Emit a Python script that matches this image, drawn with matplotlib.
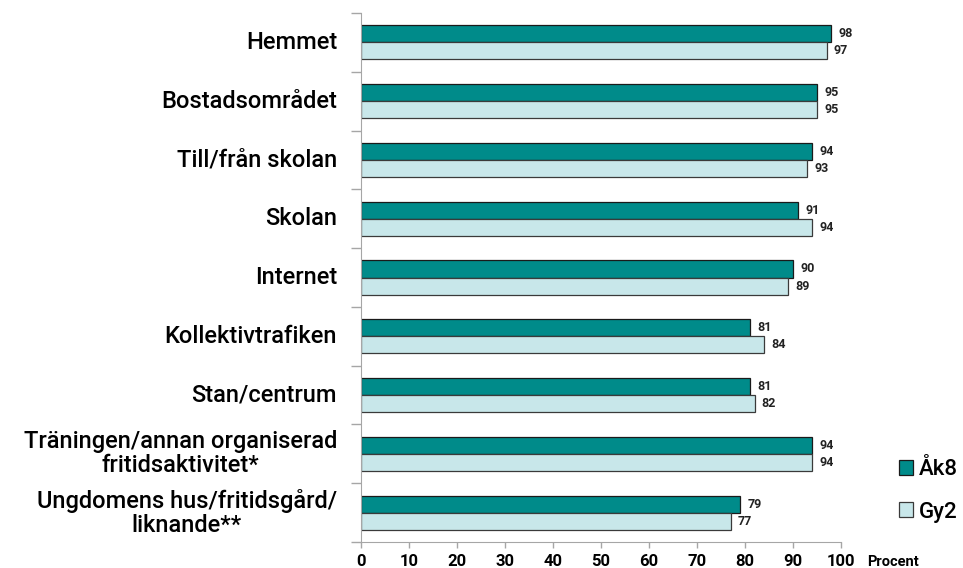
import numpy as np
import matplotlib
matplotlib.use("Agg")
import matplotlib.pyplot as plt

categories = ["Hemmet", "Bostadsområdet", "Till/från skolan", "Skolan", "Internet",
              "Kollektivtrafiken", "Stan/centrum",
              "Träningen/annan organiserad\nfritidsaktivitet*",
              "Ungdomens hus/fritidsgård/\nliknande**"]
ak8 = [98, 95, 94, 91, 90, 81, 81, 94, 79]
gy2 = [97, 95, 93, 94, 89, 84, 82, 94, 77]
series_names = ["Åk8", "Gy2"]

plt.rcParams['font.family'] = ['Roboto', 'DejaVu Sans']

fig = plt.figure(figsize=(9.63, 5.68), dpi=100)
ax = fig.add_axes([361/963, 1 - 542/568, 480/963, 529/568])

y = np.arange(len(categories))
h = 0.29
c1 = "#008B8A"
c2 = "#C8E7EA"
b1 = ax.barh(y - h/2, ak8, height=h, color=c1, edgecolor="#1a1a1a", linewidth=0.9, label=series_names[0])
b2 = ax.barh(y + h/2, gy2, height=h, color=c2, edgecolor="#3a3a3a", linewidth=0.9, label=series_names[1])

for i in range(len(categories)):
    ax.text(ak8[i] + 1.5, y[i] - h/2, str(ak8[i]), va="center", ha="left", fontsize=9, fontweight="bold", color="#222222")
    ax.text(gy2[i] + 1.5, y[i] + h/2, str(gy2[i]), va="center", ha="left", fontsize=9, fontweight="bold", color="#222222")

ax.set_ylim(len(categories) - 0.5, -0.5)
ax.set_xlim(0, 100)
ax.set_xticks(range(0, 101, 10))
ax.set_xticklabels([str(v) for v in range(0, 101, 10)], fontsize=12, fontweight="bold")

# category labels centered between boundary ticks
ax.set_yticks(np.arange(-0.5, len(categories), 1))
ax.set_yticklabels([])
ax.tick_params(axis="y", length=7, color="#a6a6a6", width=1)
ax.tick_params(axis="x", length=4, color="#a6a6a6", width=1, pad=5)
for i, lab in enumerate(categories):
    ax.text(-0.05, y[i], lab, transform=ax.get_yaxis_transform(), ha="right", va="center",
            fontsize=17, fontweight="medium", multialignment="center", linespacing=1.05)

for s in ["top", "right"]:
    ax.spines[s].set_visible(False)
ax.spines["left"].set_color("#a6a6a6")
ax.spines["bottom"].set_color("#a6a6a6")

fig.text(867/963, 1 - 562/568, "Procent", fontsize=10.5, fontweight="bold", va="center", ha="left")

fig.legend(handles=[b1, b2], labels=series_names, loc="center left",
           bbox_to_anchor=(899/963, 1 - 491/568), frameon=False,
           borderaxespad=0, borderpad=0,
           prop={"size": 16, "weight": "medium"},
           handlelength=0.65, handleheight=0.65, handletextpad=0.25, labelspacing=0.95)

fig.savefig("out.png", dpi=100)
